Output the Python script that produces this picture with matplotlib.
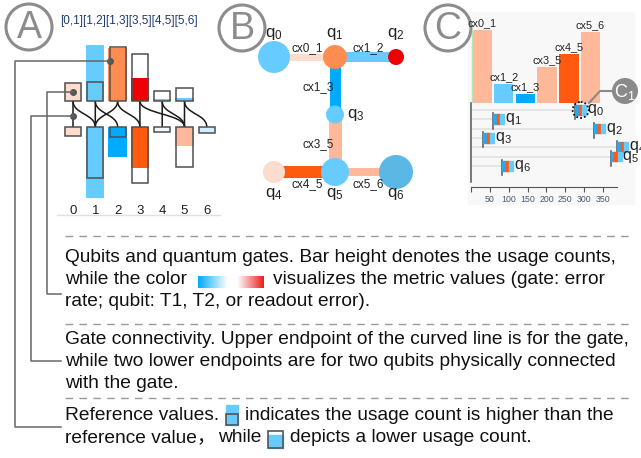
import numpy as np
import matplotlib
matplotlib.use('Agg')
import matplotlib.pyplot as plt
from matplotlib.patches import Rectangle, Circle, PathPatch
from matplotlib.path import Path
from matplotlib.colors import LinearSegmentedColormap

plt.rcParams['font.family'] = ['Liberation Sans', 'Noto Sans CJK SC', 'DejaVu Sans']
plt.rcParams['mathtext.fontset'] = 'custom'
plt.rcParams['mathtext.rm'] = 'Liberation Sans'
plt.rcParams['mathtext.it'] = 'Liberation Sans:italic'

# ---- data ----
gate_names = ['cx0_1', 'cx1_2', 'cx1_3', 'cx3_5', 'cx4_5', 'cx5_6']
gate_pairs = [(0, 1), (1, 2), (1, 3), (3, 5), (4, 5), (5, 6)]
qubit_ids = [0, 1, 2, 3, 4, 5, 6]

# panel A: usage counts vs reference values
gate_usage = [18, 56, 53, 23, 2, 3]
gate_ref = [18, 19, 54, 47, 10, 13]
gate_color_a = ['#fcdccc', '#66ccff', '#ff8c50', '#ee0000', '#66ccff', '#66ccff']
qubit_usage = [9, 71, 30, 41, 5, 19, 6]
qubit_ref = [9, 51, 10, 56, 5, 40, 6]
qubit_color_a = ['#fcdccc', '#66ccff', '#00aaff', '#ff5a10', '#f2f7fb', '#ffb89a', '#d3eeff']

# panel B: chip topology
node_x = [0, 1, 2, 1, 0, 1, 2]
node_y = [0, 0, 0, -1, -2, -2, -2]
node_size = [16, 12, 8, 9, 11, 14, 17]
node_color = ['#66ccff', '#ff8c50', '#ee0000', '#66ccff', '#fcdccc', '#66ccff', '#5bb8e6']
edge_width = [7, 10, 11, 13, 12, 8]
edge_color = ['#fcdccc', '#66ccff', '#00aaff', '#ffb89a', '#ff5a10', '#ffb89a']

# panel C
gate_count_c = [73, 19, 9, 36, 49, 71]
gate_color_c = ['#ffb89a', '#66ccff', '#00aaff', '#ffb89a', '#ff5a10', '#ffb89a']
qubit_value_c = [276, 58, 326, 32, 387, 370, 82]
glyph_colors = ['#29a8f0', '#ff5a10', '#66ccff']

W, H = 641, 458
fig = plt.figure(figsize=(W / 100, H / 100), dpi=100)


def px_axes(x0, y0, x1, y1, z=1):
    ax = fig.add_axes([x0 / W, 1 - y1 / H, (x1 - x0) / W, (y1 - y0) / H], zorder=z)
    ax.patch.set_alpha(0)
    return ax


back = px_axes(0, 0, W, H, z=0)
back.set_xlim(0, W)
back.set_ylim(H, 0)
back.axis('off')
front = px_axes(0, 0, W, H, z=5)
front.set_xlim(0, W)
front.set_ylim(H, 0)
front.axis('off')


def to_px(ax, x, y):
    d = ax.transData.transform((x, y))
    return front.transData.inverted().transform(d)


# panel C background + circled letters
back.add_patch(Rectangle((468, 12), 166, 192, color='#f8f8f8', zorder=0))
for (cx, cy), letter in zip([(29, 27), (242, 28), (448, 28)], ['A', 'B', 'C']):
    back.add_patch(Circle((cx, cy), 23, fc='white', ec='#8c8c8c', lw=2.2, zorder=2))
    back.text(cx, cy + 1, letter, fontsize=27, color='#8c8c8c', ha='center', va='center', zorder=3)

# ---- panel A ----
ax_a = px_axes(55, 35, 220, 215)
ax_a.set_xlim(-0.807, 6.592)
ax_a.set_ylim(-101, 79)
ax_a.axis('off')
gap = 13
ga = np.arange(len(gate_pairs))
ax_a.bar(ga, gate_usage, bottom=gap, width=0.82, color=gate_color_a, zorder=2)
ax_a.bar(ga, gate_ref, bottom=gap, width=0.72, fill=False, edgecolor='#505050', lw=1.1, zorder=3)
ax_a.bar(qubit_ids, -np.array(qubit_usage), bottom=-gap, width=0.82, color=qubit_color_a, zorder=2)
ax_a.bar(qubit_ids, -np.array(qubit_ref), bottom=-gap, width=0.72, fill=False, edgecolor='#505050', lw=1.1, zorder=3)

codes = [Path.MOVETO, Path.CURVE4, Path.CURVE4, Path.CURVE4]
for g, (a, b) in enumerate(gate_pairs):
    for q in (a, b):
        verts = [(g, gap), (g, 0), (q, 0), (q, -gap)]
        ax_a.add_patch(PathPatch(Path(verts, codes), fill=False, lw=1.1, ec='#1a1a1a', zorder=1))

for i in qubit_ids:
    ax_a.text(i, -97, str(i), ha='center', va='center', fontsize=9.5, color='#222222')
ax_a.plot([-0.72, 6.59], [-101, -101], color='#e0e0e0', lw=1, clip_on=False)

front.text(60, 21, ''.join('[%d,%d]' % p for p in gate_pairs), fontsize=8.5,
           color='#1c3a70', ha='left', va='center')

anchors = [(0, 22), (0, -2), (2 - 0.36, 53)]
ax_a.plot([p[0] for p in anchors], [p[1] for p in anchors], 'o', ms=4, color='#555555', zorder=6)

# brackets from panel A to explanations
for (ax_x, ax_y), xv, yend in zip(anchors, [47, 31, 15], [294, 361, 427]):
    p = to_px(ax_a, ax_x, ax_y)
    front.plot([p[0], xv, xv, 61], [p[1], p[1], yend, yend], color='#666666', lw=1.1)

# ---- panel B ----
ax_b = px_axes(230, 5, 440, 210)
ax_b.set_xlim((230 - 274) / 61, (440 - 274) / 61)
ax_b.set_ylim(-(210 - 57) / 57.5, (57 - 5) / 57.5)
ax_b.axis('off')
for k, (a, b) in enumerate(gate_pairs):
    ax_b.plot([node_x[a], node_x[b]], [node_y[a], node_y[b]], lw=edge_width[k] * 0.72,
              color=edge_color[k], solid_capstyle='butt', zorder=1)
    mx, my = (node_x[a] + node_x[b]) / 2, (node_y[a] + node_y[b]) / 2
    if node_y[a] == node_y[b]:
        dy = 0.16 if my == 0 else -0.21
        ax_b.text(mx + 0.05, my + dy, gate_names[k], ha='center', va='center', fontsize=8.5, color='#222222')
    else:
        ax_b.text(mx - 0.02, my - 0.02, gate_names[k], ha='right', va='center', fontsize=8.5, color='#222222')
ax_b.scatter(node_x, node_y, s=(2 * np.array(node_size) * 0.72) ** 2, c=node_color, zorder=2, linewidths=0)
for i in qubit_ids:
    lab = r'$\mathrm{q}_{%d}$' % i
    if node_y[i] == 0:
        ax_b.text(node_x[i], 0.4, lab, ha='center', va='center', fontsize=12, color='#222222')
    elif node_y[i] == -2:
        ax_b.text(node_x[i], -2.38, lab, ha='center', va='center', fontsize=12, color='#222222')
    else:
        ax_b.text(node_x[i] + 0.2, node_y[i], lab, ha='left', va='center', fontsize=12, color='#222222')

# ---- panel C ----
ax_c1 = px_axes(470, 13, 605, 103)
xc = np.arange(len(gate_names))
ax_c1.bar(xc, gate_count_c, width=0.9, color=gate_color_c)
ax_c1.plot([-0.45, -0.45], [0, gate_count_c[0]], color='#b8e6b8', lw=1)
ax_c1.set_xlim(-0.553, 5.668)
ax_c1.set_ylim(0, 90)
ax_c1.axis('off')
for i, name in enumerate(gate_names):
    ax_c1.text(i, gate_count_c[i] + 2, name, ha='center', va='bottom', fontsize=7.8,
               color='#222222', clip_on=False)

ax_c2 = px_axes(471, 103, 617, 182)
ax_c2.set_xlim(0, 387)
ax_c2.set_ylim(7.72, -0.75)
for s in ['top', 'right']:
    ax_c2.spines[s].set_visible(False)
ax_c2.spines['left'].set_color('#555555')
ax_c2.spines['left'].set_linewidth(1.1)
ax_c2.spines['bottom'].set_position(('outward', 3.6))
ax_c2.spines['bottom'].set_color('#555555')
ax_c2.spines['bottom'].set_linewidth(0.8)
ax_c2.set_yticks([])
ticks = list(range(0, 351, 50))
ax_c2.set_xticks(ticks)
ax_c2.set_xticklabels([''] + [str(t) for t in ticks[1:]])
ax_c2.tick_params(axis='x', length=3.6, width=0.8, color='#555555', labelsize=6.3,
                  labelcolor='#4a5a70', pad=2)
gw = 9.7
for r, v in enumerate(qubit_value_c):
    ax_c2.plot([0, v], [r, r], color='#e2e2e2', lw=1.2, zorder=1)
    ax_c2.plot([v, v], [r - 0.65, r + 1.0], color='#555555', lw=1.1, zorder=2, clip_on=False)
    for k, gc in enumerate(glyph_colors):
        ax_c2.add_patch(Rectangle((v + k * gw, r - 0.52), gw, 1.04, color=gc, zorder=3, clip_on=False))
    ax_c2.text(v + 3 * gw + 2, r, r'$\mathrm{q}_{%d}$' % r, ha='left', va='center',
               fontsize=11.5, color='#222222', clip_on=False)

# highlight around q0 + C1 badge
hp = to_px(ax_c2, qubit_value_c[0] + 1.5 * gw, 0)
front.add_patch(Circle(hp, 8, fill=False, ec='#111111', lw=1.3, ls=(0, (1, 1.2))))
front.plot([612, 600, 589], [91, 91, 103], color='#8a8a8a', lw=1.5)
front.add_patch(Circle((625, 91), 13, fc='#8a8a8a', ec='none'))
front.text(625, 92, r'$\mathrm{C}_{1}$', fontsize=13, color='white', ha='center', va='center')

# ---- explanation text ----
fs = 13.75
renderer = fig.canvas.get_renderer()
cmap = LinearSegmentedColormap.from_list('metric', [(0, '#00aaff'), (0.45, '#ffffff'),
                                                    (0.6, '#ffffff'), (1, '#ee1c1c')])


def flow(y, parts):
    x = 65
    for p in parts:
        if isinstance(p, str):
            t = front.text(x, y, p, fontsize=fs, ha='left', va='center', color='#111111')
            x += t.get_window_extent(renderer).width
        elif p[0] == 'gap':
            x += p[1]
        elif p[0] == 'cbar':
            front.imshow(np.linspace(0, 1, 256)[None, :], cmap=cmap, aspect='auto',
                         extent=[x, x + 66, y + 8, y - 4], zorder=2)
            x += 66
        elif p[0] == 'hi':
            front.add_patch(Rectangle((x, y - 11), 12, 20, color='#66ccff'))
            front.add_patch(Rectangle((x, y - 2), 12, 11, fill=False, ec='#555555', lw=1.2))
            x += 12
        elif p[0] == 'lo':
            front.add_patch(Rectangle((x, y - 3), 15, 13, color='#66ccff'))
            front.add_patch(Rectangle((x, y - 7), 15, 17, fill=False, ec='#555555', lw=1.2))
            x += 15


flow(258, ['Qubits and quantum gates. Bar height denotes the usage counts,'])
flow(280, ['while the color', ('gap', 11), ('cbar',), ('gap', 9),
           'visualizes the metric values (gate: error'])
flow(302, ['rate; qubit: T1, T2, or readout error).'])
flow(340, ['Gate connectivity. Upper endpoint of the curved line is for the gate,'])
flow(362, ['while two lower endpoints are for two qubits physically connected'])
flow(383, ['with the gate.'])
flow(416, ['Reference values.', ('gap', 7), ('hi',), ('gap', 7),
           'indicates the usage count is higher than the'])
flow(438, ['reference value\uff0c', ('gap', 2), 'while', ('gap', 7), ('lo',), ('gap', 7),
           'depicts a lower usage count.'])

front.set_xlim(0, W)
front.set_ylim(H, 0)

for yd in [236, 324, 398]:
    front.plot([65, 632], [yd, yd], color='#999999', lw=1, dashes=(5.5, 4.5))

plt.savefig('out.png', dpi=100)
